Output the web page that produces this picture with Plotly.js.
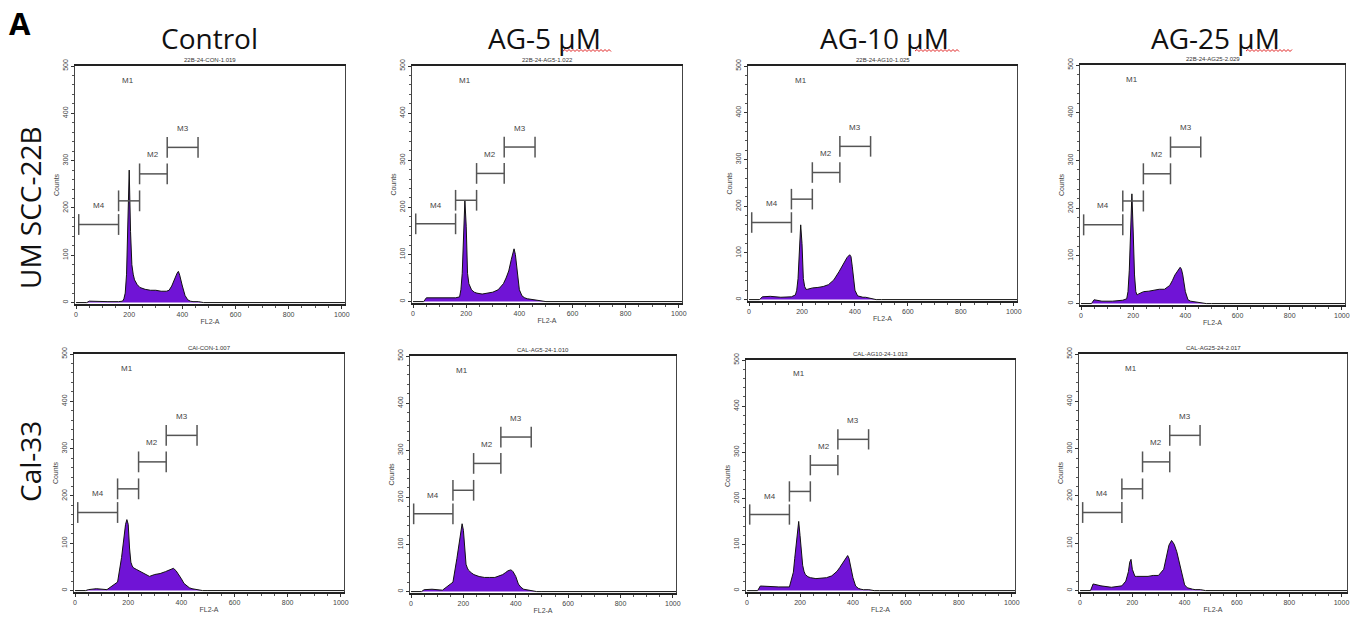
<!DOCTYPE html>
<html>
<head>
<meta charset="utf-8">
<script src="https://cdn.plot.ly/plotly-3.0.1.min.js"></script>
<style>html,body{margin:0;padding:0;background:#fff;} #chart{width:1350px;height:623px;}</style>
</head>
<body>
<div id="chart"></div>
<script>
// ---------- DATA ----------
const columnHeaders = ["Control", "AG-5 µM", "AG-10 µM", "AG-25 µM"];
const rowLabels = ["UM SCC-22B", "Cal-33"];
const panelTitles = ["22B-24-CON-1.019", "22B-24-AG5-1.022", "22B-24-AG10-1.025", "22B-24-AG25-2.029",
                     "CAl-CON-1.007", "CAL-AG5-24-1.010", "CAL-AG10-24-1.013", "CAL-AG25-24-2.017"];
const channels = [0,40,50,80,120,160,175,180,185,190,195,200,205,210,215,220,230,240,260,280,300,320,340,350,360,370,380,385,390,400,410,420,430,440,460,480,500,1024];
const counts22bControl = [0,0,3,2,2,2,3,8,20,60,200,280,150,80,60,48,38,32,28,26,26,24,24,26,35,50,62,66,58,35,15,6,3,2,2,0,0,0];
const counts22bAG5     = [0,0,8,8,8,8,10,25,60,150,215,160,60,38,30,25,20,18,16,18,20,25,38,50,65,90,112,100,70,25,12,8,6,5,3,1,0,0];
const counts22bAG10    = [0,0,6,7,5,6,10,20,45,110,160,120,45,28,22,22,24,25,26,28,32,42,60,70,80,90,96,92,70,20,8,6,5,5,3,0,0,0];
const counts22bAG25    = [0,0,8,5,5,7,10,25,70,170,230,150,60,25,18,20,22,25,26,28,30,30,38,48,60,68,76,72,60,25,8,5,4,4,2,0,0,0];
const countsCalControl = [0,0,2,4,2,18,70,95,120,140,150,140,90,60,52,48,45,42,36,30,34,36,40,42,45,47,42,38,34,25,15,10,6,4,2,0,0,0];
const countsCalAG5     = [0,0,4,5,3,20,70,90,115,135,144,130,80,58,50,45,40,36,32,30,30,30,34,36,40,44,46,45,42,32,16,9,5,4,2,0,0,0];
const countsCalAG10    = [0,0,10,9,8,8,40,70,100,135,150,120,75,55,42,35,30,28,26,27,28,32,42,50,58,66,76,70,55,28,10,5,3,2,2,0,0,0];
const countsCalAG25    = [0,0,14,10,7,10,20,28,40,60,66,45,35,30,30,30,30,31,30,32,32,45,96,106,98,82,60,48,33,12,6,4,3,2,2,0,0,0];
const panelCounts = [counts22bControl, counts22bAG5, counts22bAG10, counts22bAG25,
                     countsCalControl, countsCalAG5, countsCalAG10, countsCalAG25];
// marker gates (FL2-A channel start/end, level in counts)
const gateNames = ["M4", "", "M2", "M3"];
const gateStart = [10, 160, 239, 343];
const gateEnd   = [160, 239, 343, 459];
const gateLevel = [165, 215, 272, 328];
const m1Label = {name: "M1", x: 195, y: 470};
const xTicks = [0, 200, 400, 600, 800, 1000];
const yTicks = [0, 100, 200, 300, 400, 500];

// ---------- LAYOUT ----------
const W = 1350, H = 623;
// plot boxes in pixels: [left, top, right, bottom]
const boxes = [
  [75, 66, 345, 304], [412, 66, 682, 303], [748, 66, 1017, 301], [1080, 65, 1345, 305],
  [74, 354, 344, 592], [410, 356, 676, 593], [746, 360, 1015, 592], [1079, 354, 1347, 592]
];
const xRangeEnd = [1012, 1012, 1012, 1012, 1012, 1012, 1012, 1021];
const fx = p => p / W, fy = p => 1 - p / H;
const purple = "#7014d6";
const tickFont = {family: "Liberation Sans, Arial, sans-serif", size: 7, color: "#444"};

const data = [];
const layout = {
  width: W, height: H, margin: {l: 0, r: 0, t: 0, b: 0},
  paper_bgcolor: "#fff", plot_bgcolor: "#fff",
  showlegend: false, annotations: [], shapes: []
};

boxes.forEach((b, i) => {
  const n = i + 1, sfx = n === 1 ? "" : String(n);
  const xa = "x" + sfx, ya = "y" + sfx;
  layout["xaxis" + sfx] = {
    domain: [fx(b[0]), fx(b[2])], anchor: ya, range: [-4, xRangeEnd[i]],
    tickvals: xTicks, ticks: "outside", ticklen: 3, tickcolor: "#333", tickwidth: 1,
    minor: {dtick: 50, tick0: 0, ticks: "outside", ticklen: 2, tickcolor: "#555"},
    showgrid: false, zeroline: false, showline: true, mirror: true, linecolor: "#222", linewidth: 2,
    tickfont: tickFont, ticklabeloverflow: "allow",
    title: {text: "FL2-A", font: {family: "Liberation Sans, Arial, sans-serif", size: 7, color: "#444"}, standoff: 2},
    fixedrange: true
  };
  layout["yaxis" + sfx] = {
    domain: [fy(b[3]), fy(b[1])], anchor: xa, range: [-3, 500],
    tickvals: yTicks, ticks: "outside", ticklen: 3, tickcolor: "#333", tickwidth: 1,
    minor: {dtick: 20, tick0: 0, ticks: "outside", ticklen: 2, tickcolor: "#555"},
    showgrid: false, zeroline: false, showline: true, mirror: true, linecolor: "#444", linewidth: 1,
    tickfont: tickFont, tickangle: -90, ticklabeloverflow: "allow",
    title: {text: "Counts", font: {family: "Liberation Sans, Arial, sans-serif", size: 7, color: "#444"}, standoff: 1},
    fixedrange: true
  };
  // histogram
  data.push({
    type: "scatter", mode: "lines", x: channels, y: panelCounts[i], xaxis: xa, yaxis: ya,
    fill: "tozeroy", fillcolor: purple, line: {color: "#111", width: 1}, hoverinfo: "x+y"
  });
  // gates
  const gx = [], gy = [];
  const cap = 22;
  gateStart.forEach((s, k) => {
    const e = gateEnd[k], lv = gateLevel[k];
    gx.push(s, s, null, s, e, null, e, e, null);
    gy.push(lv - cap, lv + cap, null, lv, lv, null, lv - cap, lv + cap, null);
    if (gateNames[k]) {
      layout.annotations.push({
        xref: xa, yref: ya, x: (s + e) / 2, y: lv + 40, text: gateNames[k], showarrow: false,
        xanchor: "center", yanchor: "middle",
        font: {family: "Liberation Sans, Arial, sans-serif", size: 8, color: "#444"}
      });
    }
  });
  data.push({
    type: "scatter", mode: "lines", x: gx, y: gy, xaxis: xa, yaxis: ya,
    line: {color: "#555", width: 1.5}, hoverinfo: "skip"
  });
  layout.annotations.push({
    xref: xa, yref: ya, x: m1Label.x, y: m1Label.y, text: m1Label.name, showarrow: false,
    xanchor: "center", yanchor: "middle",
    font: {family: "Liberation Sans, Arial, sans-serif", size: 8, color: "#444"}
  });
  // panel title
  layout.annotations.push({
    xref: "paper", yref: "paper", x: fx((b[0] + b[2]) / 2), y: fy(b[1] - 1),
    xanchor: "center", yanchor: "bottom",
    text: panelTitles[i], showarrow: false,
    font: {family: "Liberation Sans, Arial, sans-serif", size: 6, color: "#333"}
  });
});

// column headers
const headerX = [209, 544, 884, 1215];
columnHeaders.forEach((t, i) => {
  layout.annotations.push({
    xref: "paper", yref: "paper", x: fx(headerX[i]), y: fy(38), xanchor: "center", yanchor: "middle",
    text: t, showarrow: false,
    font: {family: "Open Sans, Noto Sans, sans-serif", size: 28, color: "#111"}
  });
});
// red spell-check squiggles under "µM"
const squiggles = [[563, 611], [915, 959], [1246, 1293]];
squiggles.forEach(([a, bEnd]) => {
  let d = "M" + fx(a) + "," + fy(51);
  let up = true;
  for (let p = a + 2; p <= bEnd; p += 2) {
    d += " L" + fx(p) + "," + fy(up ? 49.5 : 51.5);
    up = !up;
  }
  layout.shapes.push({type: "path", xref: "paper", yref: "paper", path: d, line: {color: "#e02020", width: 1}});
});
// row labels
const rowY = [208, 462];
rowLabels.forEach((t, i) => {
  layout.annotations.push({
    xref: "paper", yref: "paper", x: fx(30), y: fy(rowY[i]), xanchor: "center", yanchor: "middle",
    text: t, showarrow: false, textangle: -90,
    font: {family: "Open Sans, Noto Sans, sans-serif", size: 28, color: "#111"}
  });
});
// panel letter
layout.annotations.push({
  xref: "paper", yref: "paper", x: fx(20), y: fy(23), xanchor: "center", yanchor: "middle",
  text: "<b>A</b>", showarrow: false,
  font: {family: "Open Sans, Noto Sans, sans-serif", size: 31, color: "#000"}
});

Plotly.newPlot("chart", data, layout, {displayModeBar: false, staticPlot: true});
</script>
</body>
</html>
